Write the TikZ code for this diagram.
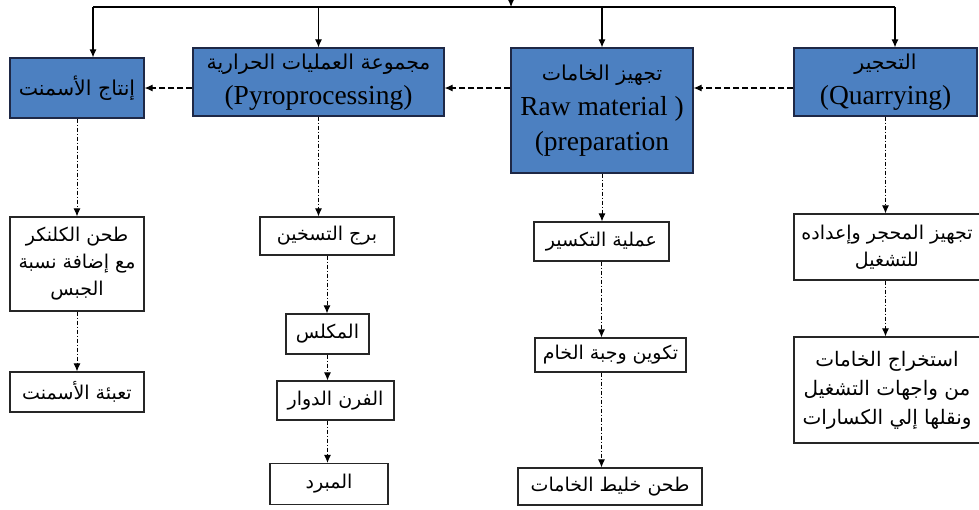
\documentclass[tikz,border=0pt]{standalone}
\usepackage{fontspec}
\usepackage{xcolor}
\setmainfont{Liberation Serif}
\newfontfamily\arabicfont[Script=Arabic]{DejaVu Sans}
\TeXXeTstate=1
\usetikzlibrary{arrows.meta}
\definecolor{stageblue}{RGB}{76,128,193}
\definecolor{stageline}{RGB}{30,40,70}
\newcommand{\artxt}[1]{{\arabicfont\beginR #1\endR}}
\newcommand{\arhead}[1]{{\fontsize{20.5}{34}\selectfont\arabicfont\beginR #1\endR}}

\begin{document}
\begin{tikzpicture}[x=1pt,y=-1pt,
    stage/.style={draw=stageline,fill=stageblue,line width=1.2pt,align=center,inner sep=0pt,font=\fontsize{27.5}{35}\selectfont},
    task/.style={draw=black!85,fill=white,line width=1.2pt,align=center,inner sep=0pt,font=\fontsize{19}{27}\selectfont},
    feed/.style={-{Latex[length=8pt,width=7pt]},line width=1.1pt},
    pass/.style={-{Latex[length=8pt,width=7pt]},line width=1.1pt,dash pattern=on 6pt off 3pt},
    flow/.style={-{Latex[length=8pt,width=7pt]},line width=1pt,dash pattern=on 4pt off 2pt on 1pt off 2pt}]
				\clip (0,0) rectangle (979,509);
				
				% Main stages
				\node[stage,minimum width=134pt,minimum height=60pt] (prod) at (77,88) {\arhead{إنتاج الأسمنت}};
				\node[stage,minimum width=251pt,minimum height=68pt] (pyro) at (318.5,82) {\arhead{مجموعة العمليات الحرارية}\\(Pyroprocessing)};
				\node[stage,minimum width=182pt,minimum height=125pt] (raw) at (602,110.5) {\arhead{تجهيز الخامات}\\Raw material )\\(preparation};
				\node[stage,minimum width=183pt,minimum height=68pt] (quarry) at (885.5,82) {\arhead{التحجير}\\(Quarrying)};
				
				% Feed line
				\coordinate (busL) at (93,7);
				\coordinate (busR) at (895,7);
				\coordinate (feed) at (511,-12);
				\draw[line width=1.1pt] (busL) -- (busR);
				\draw[feed] (feed) -- (feed |- busL);
				\draw[feed] (busL) -- (busL |- prod.north);
				\draw[feed] (pyro.north |- busL) -- (pyro.north);
				\draw[feed] (raw.north |- busL) -- (raw.north);
				\draw[feed] (busR) -- (busR |- quarry.north);
				
				% Stage order
				\draw[pass] (quarry.west |- prod.east) -- (raw.east |- prod.east);
				\draw[pass] (raw.west |- prod.east) -- (pyro.east |- prod.east);
				\draw[pass] (pyro.west |- prod.east) -- (prod.east);
				
				% Cement column
				\node[task,minimum width=134pt,minimum height=94pt] (grind) at (77,264) {\artxt{طحن الكلنكر}\\\artxt{مع إضافة نسبة}\\\artxt{الجبس}};
				\node[task,minimum width=134pt,minimum height=40pt] (pack) at (77,392) {\artxt{تعبئة الأسمنت}};
				\draw[flow] (prod.south) -- (grind.north);
				\draw[flow] (grind.south) -- (pack.north);
				
				% Pyroprocessing column
				\node[task,minimum width=134pt,minimum height=38pt] (heat) at (327,236) {\artxt{برج التسخين}};
				\node[task,minimum width=83pt,minimum height=40pt] (calc) at (327.5,334) {\artxt{المكلس}};
				\node[task,minimum width=117pt,minimum height=39pt] (kiln) at (335.5,400.5) {\artxt{الفرن الدوار}};
				\node[task,minimum width=118pt,minimum height=41pt] (cool) at (329,484) {\artxt{المبرد}};
				\draw[flow] (pyro.south) -- (pyro.south |- heat.north);
				\draw[flow] (heat.south) -- (heat.south |- calc.north);
				\draw[flow] (calc.south) -- (calc.south |- kiln.north);
				\draw[flow] (kiln.south -| calc.south) -- (cool.north -| calc.south);
				
				% Raw material column
				\node[task,minimum width=135pt,minimum height=39pt] (crush) at (601.5,241.5) {\artxt{عملية التكسير}};
				\node[task,minimum width=151pt,minimum height=34pt] (mix) at (610.5,355) {\artxt{تكوين وجبة الخام}};
				\node[task,minimum width=184pt,minimum height=37pt] (mill) at (610,486.5) {\artxt{طحن خليط الخامات}};
				\draw[flow] (raw.south) -- (raw.south |- crush.north);
				\draw[flow] (crush.south) -- (crush.south |- mix.north);
				\draw[flow] (mix.south -| crush.south) -- (mill.north -| crush.south);
				
				% Quarry column
				\node[task,minimum width=186pt,minimum height=66pt] (prep) at (887,247) {\artxt{تجهيز المحجر وإعداده}\\\artxt{للتشغيل}};
				\node[task,minimum width=186pt,minimum height=106pt,font=\fontsize{20}{29}\selectfont] (extract) at (887,390) {\artxt{استخراج الخامات}\\\artxt{من واجهات التشغيل}\\\artxt{ونقلها إلي الكسارات}};
				\draw[flow] (quarry.south) -- (quarry.south |- prep.north);
				\draw[flow] (prep.south -| quarry.south) -- (extract.north -| quarry.south);
			\end{tikzpicture}
\end{document}
